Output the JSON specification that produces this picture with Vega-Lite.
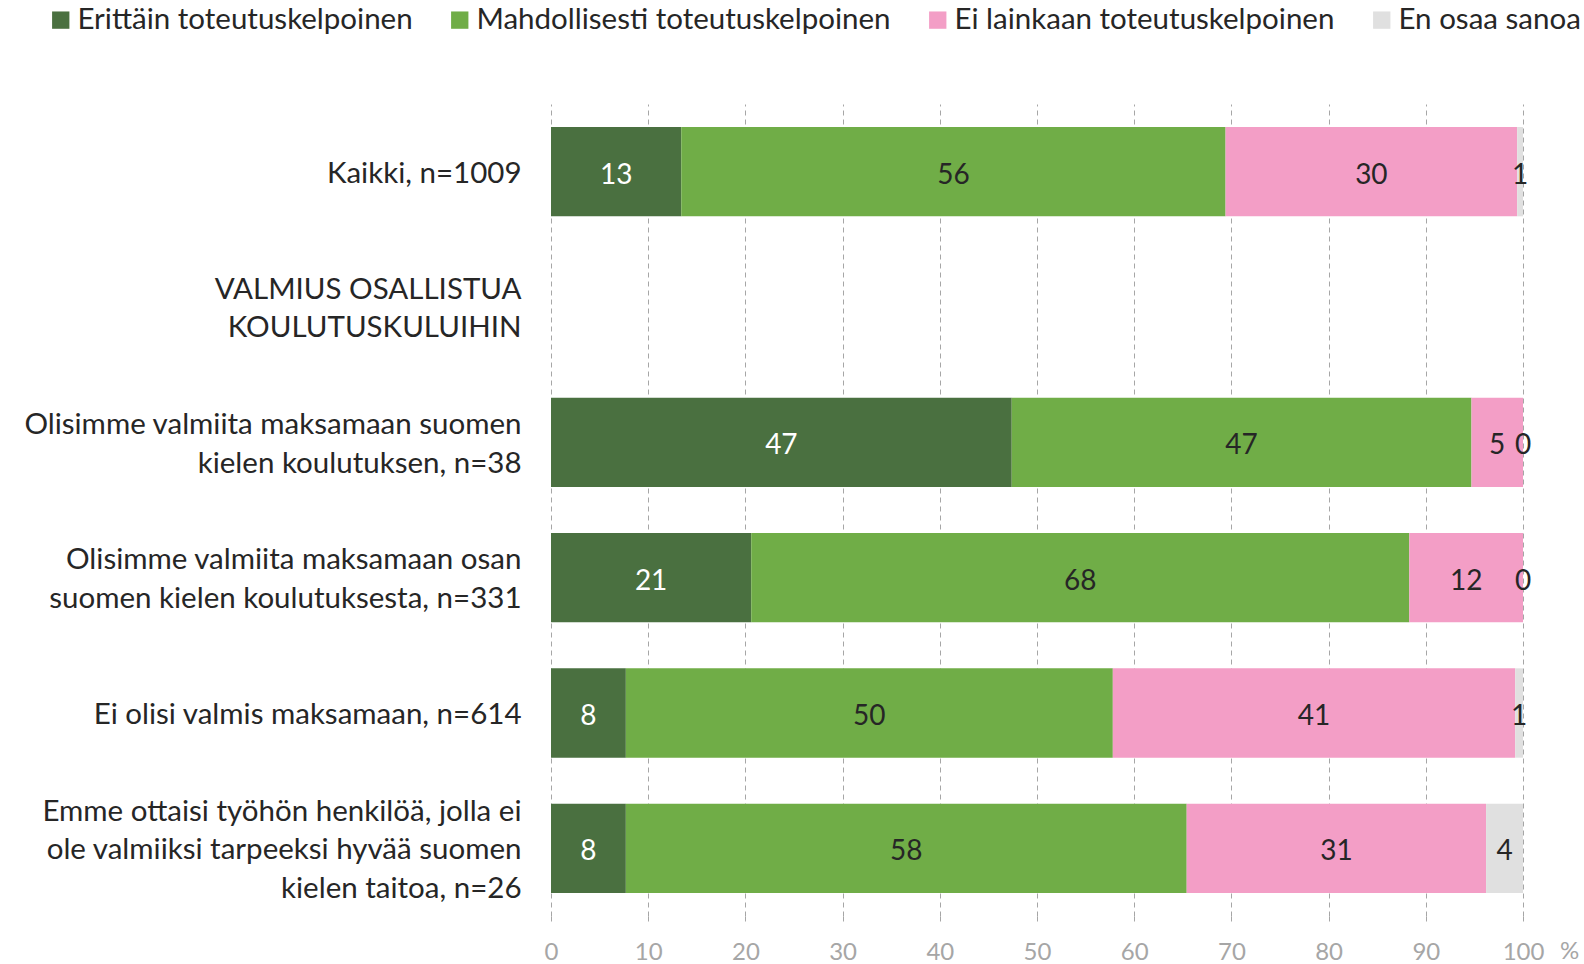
{
  "$schema": "https://vega.github.io/schema/vega-lite/v6.json",
  "width": 972,
  "height": 812,
  "autosize": {"type": "none"},
  "padding": {"left": 551, "top": 104, "right": 61, "bottom": 48},
  "background": "white",
  "config": {"view": {"stroke": null}, "font": "Lato"},
  "data": {
    "values": [
      {"cat": "Kaikki, n=1009", "series": "Erittäin toteutuskelpoinen", "value": 13.4},
      {"cat": "Kaikki, n=1009", "series": "Mahdollisesti toteutuskelpoinen", "value": 56.0},
      {"cat": "Kaikki, n=1009", "series": "Ei lainkaan toteutuskelpoinen", "value": 30.0},
      {"cat": "Kaikki, n=1009", "series": "En osaa sanoa", "value": 0.6},
      {"cat": "Olisimme valmiita maksamaan suomen|kielen koulutuksen, n=38", "series": "Erittäin toteutuskelpoinen", "value": 47.4},
      {"cat": "Olisimme valmiita maksamaan suomen|kielen koulutuksen, n=38", "series": "Mahdollisesti toteutuskelpoinen", "value": 47.3},
      {"cat": "Olisimme valmiita maksamaan suomen|kielen koulutuksen, n=38", "series": "Ei lainkaan toteutuskelpoinen", "value": 5.3},
      {"cat": "Olisimme valmiita maksamaan suomen|kielen koulutuksen, n=38", "series": "En osaa sanoa", "value": 0.0},
      {"cat": "Olisimme valmiita maksamaan osan|suomen kielen koulutuksesta, n=331", "series": "Erittäin toteutuskelpoinen", "value": 20.6},
      {"cat": "Olisimme valmiita maksamaan osan|suomen kielen koulutuksesta, n=331", "series": "Mahdollisesti toteutuskelpoinen", "value": 67.7},
      {"cat": "Olisimme valmiita maksamaan osan|suomen kielen koulutuksesta, n=331", "series": "Ei lainkaan toteutuskelpoinen", "value": 11.7},
      {"cat": "Olisimme valmiita maksamaan osan|suomen kielen koulutuksesta, n=331", "series": "En osaa sanoa", "value": 0.0},
      {"cat": "Ei olisi valmis maksamaan, n=614", "series": "Erittäin toteutuskelpoinen", "value": 7.7},
      {"cat": "Ei olisi valmis maksamaan, n=614", "series": "Mahdollisesti toteutuskelpoinen", "value": 50.1},
      {"cat": "Ei olisi valmis maksamaan, n=614", "series": "Ei lainkaan toteutuskelpoinen", "value": 41.4},
      {"cat": "Ei olisi valmis maksamaan, n=614", "series": "En osaa sanoa", "value": 0.8},
      {"cat": "Emme ottaisi työhön henkilöä, jolla ei|ole valmiiksi tarpeeksi hyvää suomen|kielen taitoa, n=26", "series": "Erittäin toteutuskelpoinen", "value": 7.7},
      {"cat": "Emme ottaisi työhön henkilöä, jolla ei|ole valmiiksi tarpeeksi hyvää suomen|kielen taitoa, n=26", "series": "Mahdollisesti toteutuskelpoinen", "value": 57.7},
      {"cat": "Emme ottaisi työhön henkilöä, jolla ei|ole valmiiksi tarpeeksi hyvää suomen|kielen taitoa, n=26", "series": "Ei lainkaan toteutuskelpoinen", "value": 30.8},
      {"cat": "Emme ottaisi työhön henkilöä, jolla ei|ole valmiiksi tarpeeksi hyvää suomen|kielen taitoa, n=26", "series": "En osaa sanoa", "value": 3.8}
    ]
  },
  "transform": [
    {"calculate": "indexof(['Erittäin toteutuskelpoinen','Mahdollisesti toteutuskelpoinen','Ei lainkaan toteutuskelpoinen','En osaa sanoa'], datum.series)", "as": "k"},
    {"stack": "value", "groupby": ["cat"], "sort": [{"field": "k", "order": "ascending"}], "as": ["v0", "v1"]},
    {"calculate": "(datum.v0 + datum.v1) / 2", "as": "mid"}
  ],
  "encoding": {
    "y": {
      "field": "cat",
      "type": "nominal",
      "title": null,
      "scale": {
        "domain": [
          "Kaikki, n=1009",
          "VALMIUS OSALLISTUA|KOULUTUSKULUIHIN\u00a0",
          "Olisimme valmiita maksamaan suomen|kielen koulutuksen, n=38",
          "Olisimme valmiita maksamaan osan|suomen kielen koulutuksesta, n=331",
          "Ei olisi valmis maksamaan, n=614",
          "Emme ottaisi työhön henkilöä, jolla ei|ole valmiiksi tarpeeksi hyvää suomen|kielen taitoa, n=26"
        ],
        "paddingInner": 0.34,
        "paddingOuter": 0.17
      },
      "axis": {
        "labelExpr": "split(datum.label, '|')",
        "labelFontSize": 29.5,
        "labelColor": "#262626",
        "labelAlign": "right",
        "labelBaseline": "middle",
        "labelLineHeight": 38.5,
        "labelPadding": 30,
        "labelLimit": 800,
        "labelOffset": {"expr": "2 - (split(datum.value, '|').length - 1) * 19.25"},
        "ticks": false,
        "domain": false,
        "grid": false
      }
    }
  },
  "layer": [
    {
      "mark": {"type": "bar"},
      "encoding": {
        "x": {
          "field": "v0",
          "type": "quantitative",
          "scale": {"domain": [0, 100], "nice": false},
          "axis": {
            "values": [0, 10, 20, 30, 40, 50, 60, 70, 80, 90, 100],
            "grid": true,
            "gridColor": "#A6A6A6",
            "gridDash": [5, 4],
            "gridWidth": 1,
            "domain": false,
            "ticks": true,
            "tickSize": 6,
            "tickColor": "#A6A6A6",
            "tickDash": [5, 4],
            "labelFlush": false,
            "labelFontSize": 24,
            "labelColor": "#A6A6A6",
            "labelPadding": 18,
            "title": "%",
            "titleFontSize": 24,
            "titleFontWeight": "normal",
            "titleColor": "#A6A6A6",
            "titleAngle": 0,
            "titleAlign": "center",
            "titleBaseline": "middle",
            "titleX": 1018,
            "titleY": 35
          }
        },
        "x2": {"field": "v1"},
        "color": {
          "field": "series",
          "type": "nominal",
          "scale": {
            "domain": ["Erittäin toteutuskelpoinen", "Mahdollisesti toteutuskelpoinen", "Ei lainkaan toteutuskelpoinen", "En osaa sanoa"],
            "range": ["#4A7040", "#70AD47", "#F39EC6", "#E0E0E0"]
          },
          "legend": {
            "title": null,
            "orient": "none",
            "legendX": -505,
            "legendY": -99,
            "direction": "horizontal",
            "symbolType": "square",
            "symbolSize": 300,
            "symbolStrokeWidth": 0,
            "labelFontSize": 29.5,
            "labelColor": "#262626",
            "labelOffset": 2,
            "columnPadding": 32,
            "labelLimit": 600
          }
        }
      }
    },
    {
      "mark": {"type": "text", "fontSize": 28, "baseline": "middle", "align": "center", "dy": 4},
      "encoding": {
        "x": {"field": "mid", "type": "quantitative"},
        "text": {"field": "value", "type": "quantitative", "format": ".0f"},
        "color": {
          "condition": {"test": "datum.series === 'Erittäin toteutuskelpoinen'", "value": "white"},
          "value": "#262626"
        }
      }
    }
  ]
}
